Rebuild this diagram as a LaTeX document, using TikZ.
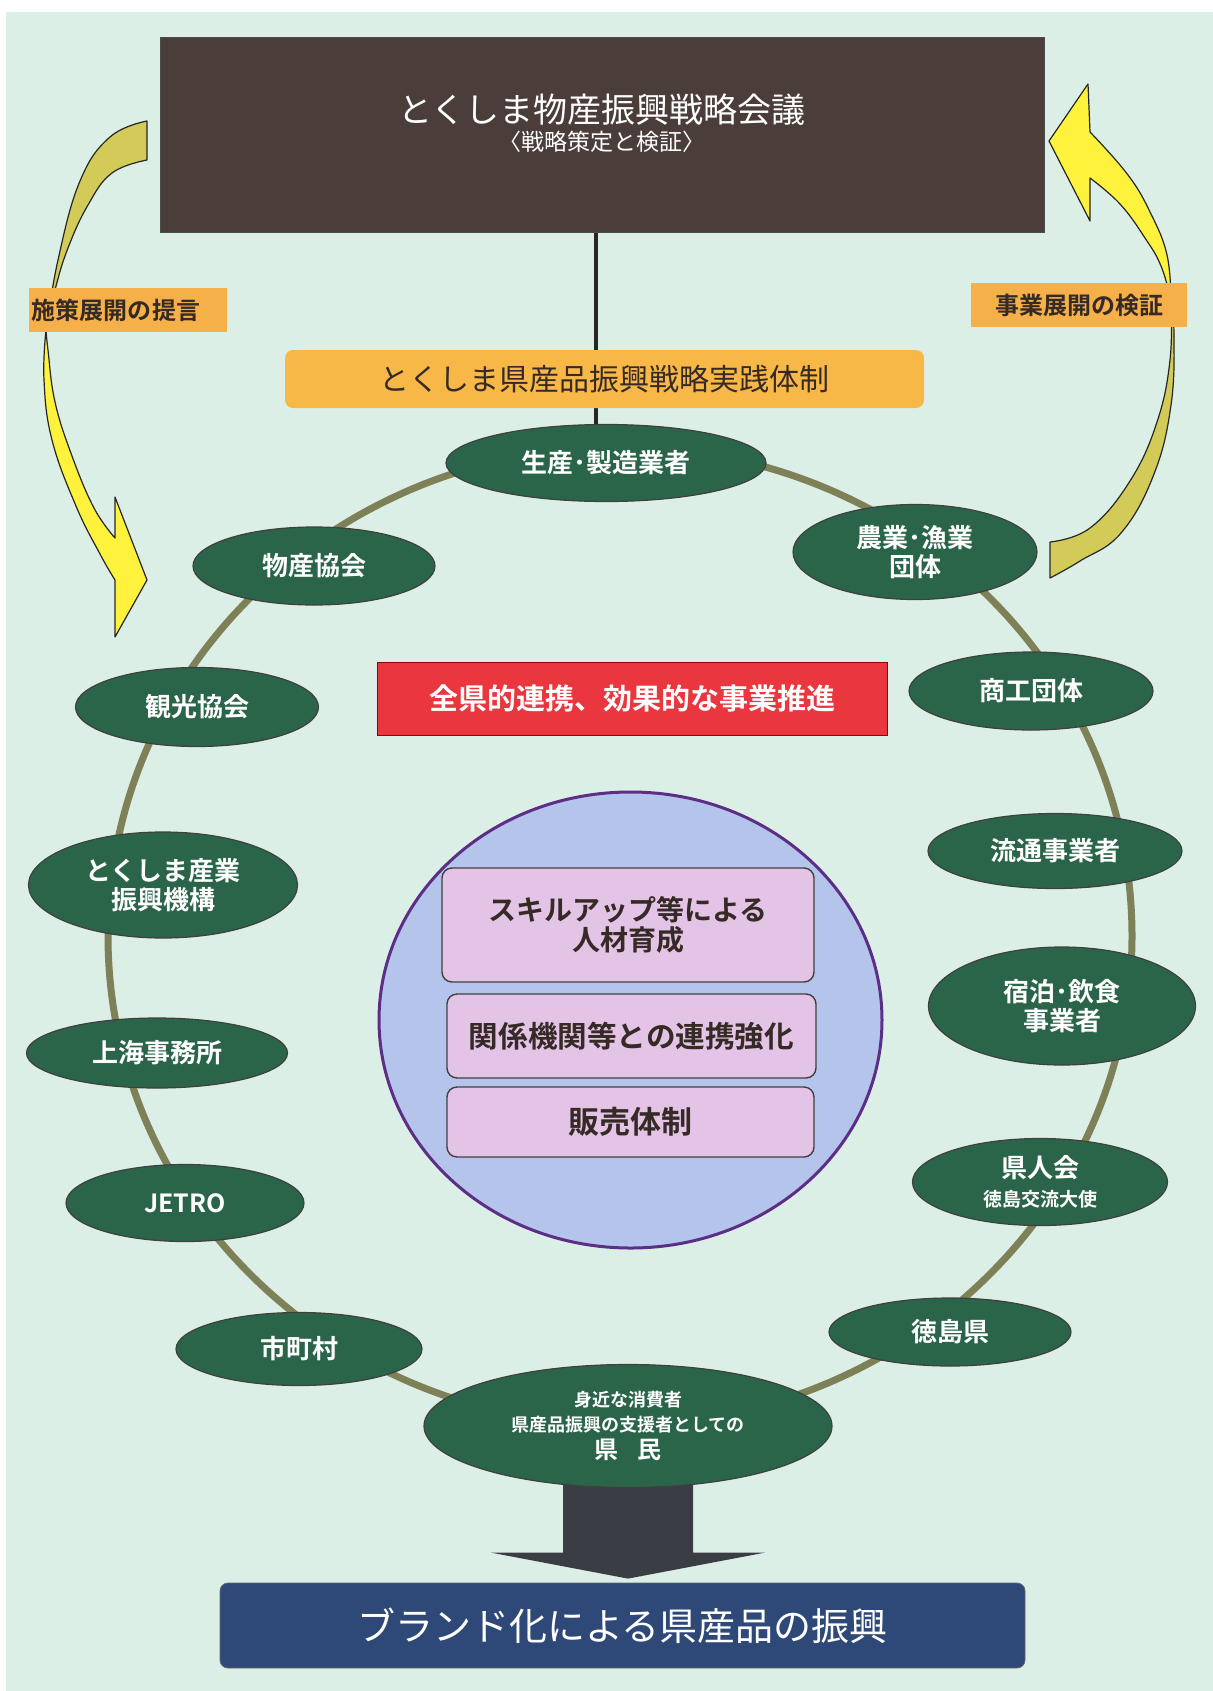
\documentclass[tikz,border=0pt]{standalone}
\usepackage{fontspec}
\setmainfont{Noto Sans CJK JP}[BoldFont={Noto Sans CJK JP Bold}]
\usetikzlibrary{shapes.geometric,calc}
\definecolor{mint}{HTML}{DBEFE7}
\definecolor{brownbox}{HTML}{4A3D3A}
\definecolor{orangebox}{HTML}{F8B848}
\definecolor{labelor}{HTML}{F6B04A}
\definecolor{nodegreen}{HTML}{2A6549}
\definecolor{ringcol}{HTML}{7E8058}
\definecolor{redbox}{HTML}{EA363E}
\definecolor{purplefill}{HTML}{B5C4EA}
\definecolor{purpleline}{HTML}{5C2E86}
\definecolor{pinkfill}{HTML}{E4C4E6}
\definecolor{yellowbright}{HTML}{FFF23C}
\definecolor{yellowolive}{HTML}{D3CB58}
\definecolor{arrowdark}{HTML}{3A3D44}
\definecolor{navybox}{HTML}{2E4878}
\definecolor{darktext}{HTML}{352A25}
\pgfdeclarelayer{bgl}
\pgfdeclarelayer{conn}
\pgfsetlayers{bgl,conn,main}
\begin{document}
\begin{tikzpicture}[x=0.5pt,y=-0.5pt,
  org/.style={ellipse, draw=black!75, line width=0.6pt, fill=nodegreen, text=white,
    inner sep=0pt, align=center, font=\bfseries\fontsize{13}{14.5}\selectfont},
  skillbox/.style={rectangle, rounded corners=5pt, draw=black!75, line width=0.7pt,
    fill=pinkfill, text=darktext, align=center, inner sep=0pt,
    font=\bfseries\fontsize{14}{15}\selectfont},
  sidelabel/.style={rectangle, fill=labelor, text=darktext, inner sep=0pt,
    minimum height=22pt, font=\bfseries\fontsize{12}{14}\selectfont},
  ringline/.style={draw=ringcol, line width=3.5pt},
  yarrow/.style={draw=black!85, line width=0.6pt, line join=round}
]
\useasboundingbox (0,0) rectangle (1213,1691);
\begin{pgfonlayer}{bgl}
  \fill[white] (0,0) rectangle (1213,1691);
  \fill[mint] (6,12) rectangle (1213,1691);
\end{pgfonlayer}

% council box
\node[rectangle, fill=brownbox, draw=black!70, line width=0.5pt, inner sep=0pt,
  minimum width=442pt, minimum height=97pt] (council) at (602,135) {};
\node[text=white, align=center, inner sep=0pt] (counciltext) at (602,123)
  {{\fontsize{17}{20}\selectfont とくしま物産振興戦略会議}\\[2pt]
   {\fontsize{11.5}{13}\selectfont 〈戦略策定と検証〉}};

% practice system box
\node[rectangle, rounded corners=4pt, fill=orangebox, text=darktext, inner sep=0pt,
  minimum width=319.5pt, minimum height=29pt, font=\fontsize{15}{17}\selectfont]
  (jissen) at (604.5,379) {とくしま県産品振興戦略実践体制};

% side labels
\node[sidelabel, minimum width=99pt, text width=96pt, align=left] (teigen) at (128,310) {施策展開の提言};
\node[sidelabel, minimum width=108pt, align=center] (kensho) at (1079,305) {事業展開の検証};

% ring nodes
\node[org, minimum width=160pt, minimum height=38.5pt] (seisan) at (606,463) {生産･製造業者};
\node[org, minimum width=121pt, minimum height=39pt] (bussan) at (314,566) {物産協会};
\node[org, minimum width=122pt, minimum height=47.5pt] (nogyo) at (915,552) {農業･漁業\\団体};
\node[org, minimum width=121.5pt, minimum height=39.5pt] (kanko) at (197,707) {観光協会};
\node[org, minimum width=122pt, minimum height=39pt] (shoko) at (1031,691) {商工団体};
\node[org, minimum width=127pt, minimum height=37.5pt] (ryutsu) at (1055,851) {流通事業者};
\node[org, minimum width=134.5pt, minimum height=53pt] (kiko) at (163,885) {とくしま産業\\振興機構};
\node[org, minimum width=133.5pt, minimum height=59pt] (shukuhaku) at (1062,1006) {宿泊･飲食\\事業者};
\node[org, minimum width=130.5pt, minimum height=35pt] (shanghai) at (157,1053) {上海事務所};
\node[org, minimum width=119pt, minimum height=38.5pt, font=\bfseries\fontsize{12.5}{14.5}\selectfont] (jetro) at (185,1203) {JETRO};
\node[org, minimum width=127.5pt, minimum height=43.5pt] (kenjinkai) at (1040,1182)
  {県人会\\{\fontsize{9.5}{11}\selectfont 徳島交流大使}};
\node[org, minimum width=123pt, minimum height=36.5pt] (shichoson) at (299,1349) {市町村};
\node[org, minimum width=121pt, minimum height=34pt] (tokushimaken) at (950,1332) {徳島県};
\node[org, minimum width=204pt, minimum height=61.5pt, font=\bfseries\fontsize{9}{12.5}\selectfont]
  (kenmin) at (628,1426)
  {身近な消費者\\県産品振興の支援者としての\\[1pt]{\fontsize{12}{13}\selectfont 県\hspace{0.8em}民}};

% red banner
\node[rectangle, fill=redbox, draw=red!60!black, line width=0.4pt, inner sep=0pt,
  minimum width=255pt, minimum height=36.5pt, text=white,
  font=\bfseries\fontsize{14.5}{16}\selectfont] (renkei) at (632,698.5) {全県的連携、効果的な事業推進};

% central hub
\node[ellipse, draw=purpleline, line width=1.5pt, fill=purplefill, inner sep=0pt,
  minimum width=251.5pt, minimum height=228pt] (hub) at (630.5,1020) {};
\node[skillbox, minimum width=186pt, minimum height=57pt] (jinzai) at (628,925) {スキルアップ等による\\人材育成};
\node[skillbox, minimum width=184.5pt, minimum height=42pt, font=\bfseries\fontsize{14.8}{16}\selectfont] (renkeikyoka) at (631.5,1036) {関係機関等との連携強化};
\node[skillbox, minimum width=183.5pt, minimum height=35pt, font=\bfseries\fontsize{15.5}{17}\selectfont] (hanbai) at (630.5,1122) {販売体制};

% brand box
\node[rectangle, rounded corners=4pt, fill=navybox, draw=black!60, line width=0.4pt,
  inner sep=0pt, minimum width=402.5pt, minimum height=42.5pt, text=white,
  font=\fontsize{19}{21}\selectfont] (brand) at (622.5,1625.5) {ブランド化による県産品の振興};

\coordinate (ringc) at (620,936);

\begin{pgfonlayer}{conn}
  % ring through the member nodes
  \draw[ringline] (ringc) ellipse [x radius=256pt, y radius=244.5pt];
  % council to practice system
  \coordinate (c1) at ([xshift=-3pt]council.south);
  \draw[line width=2pt, black!85] (c1) -- (c1 |- seisan.north);
  % kenmin to brand arrow
  \coordinate (ka) at (kenmin.south);
  \coordinate (kb) at (ka |- brand.north);
  \fill[arrowdark] ($(ka)+(-65,-30)$) -- ($(ka)+(65,-30)$) -- ($(kb)+(65,-30)$)
    -- ($(kb)+(137,-30)$) -- ($(kb)+(0,-4)$) -- ($(kb)+(-137,-30)$) -- ($(kb)+(-65,-30)$) -- cycle;
  % left yellow curved arrow (proposal)
  \filldraw[yarrow, fill=yellowolive]
    plot[smooth, tension=0.7] coordinates {(147,121) (110,137) (80,181) (58,260) (46,332)}
    -- plot[smooth, tension=0.7] coordinates {(46,332) (55,290) (68,248) (88,205) (112,173) (147,160)}
    -- cycle;
  \filldraw[yarrow, fill=yellowbright]
    plot[smooth, tension=0.7] coordinates {(46,330) (44,380) (52,440) (76,506) (100,554) (115,580)}
    -- (115,637) -- (147,580) -- (115,497) -- (115,538)
    -- plot[smooth, tension=0.7] coordinates {(115,538) (94,508) (72,456) (55,402) (48,350) (46,330)}
    -- cycle;
  % right yellow curved arrow (verification)
  \filldraw[yarrow, fill=yellowbright]
    (1088,84) -- (1049,141) -- (1090,221) -- (1090,178)
    -- plot[smooth, tension=0.7] coordinates {(1090,178) (1120,204) (1145,238) (1161,266) (1171,300)}
    -- plot[smooth, tension=0.7] coordinates {(1171,300) (1167,255) (1151,214) (1128,175) (1090,132)}
    -- cycle;
  \filldraw[yarrow, fill=yellowolive]
    plot[smooth, tension=0.7] coordinates {(1171,300) (1174,336) (1171,405) (1154,474) (1121,533) (1080,561) (1050,578)}
    -- (1050,542)
    -- plot[smooth, tension=0.7] coordinates {(1050,542) (1090,528) (1130,481) (1157,422) (1170,360) (1171,300)}
    -- cycle;
\end{pgfonlayer}
\end{tikzpicture}
\end{document}
